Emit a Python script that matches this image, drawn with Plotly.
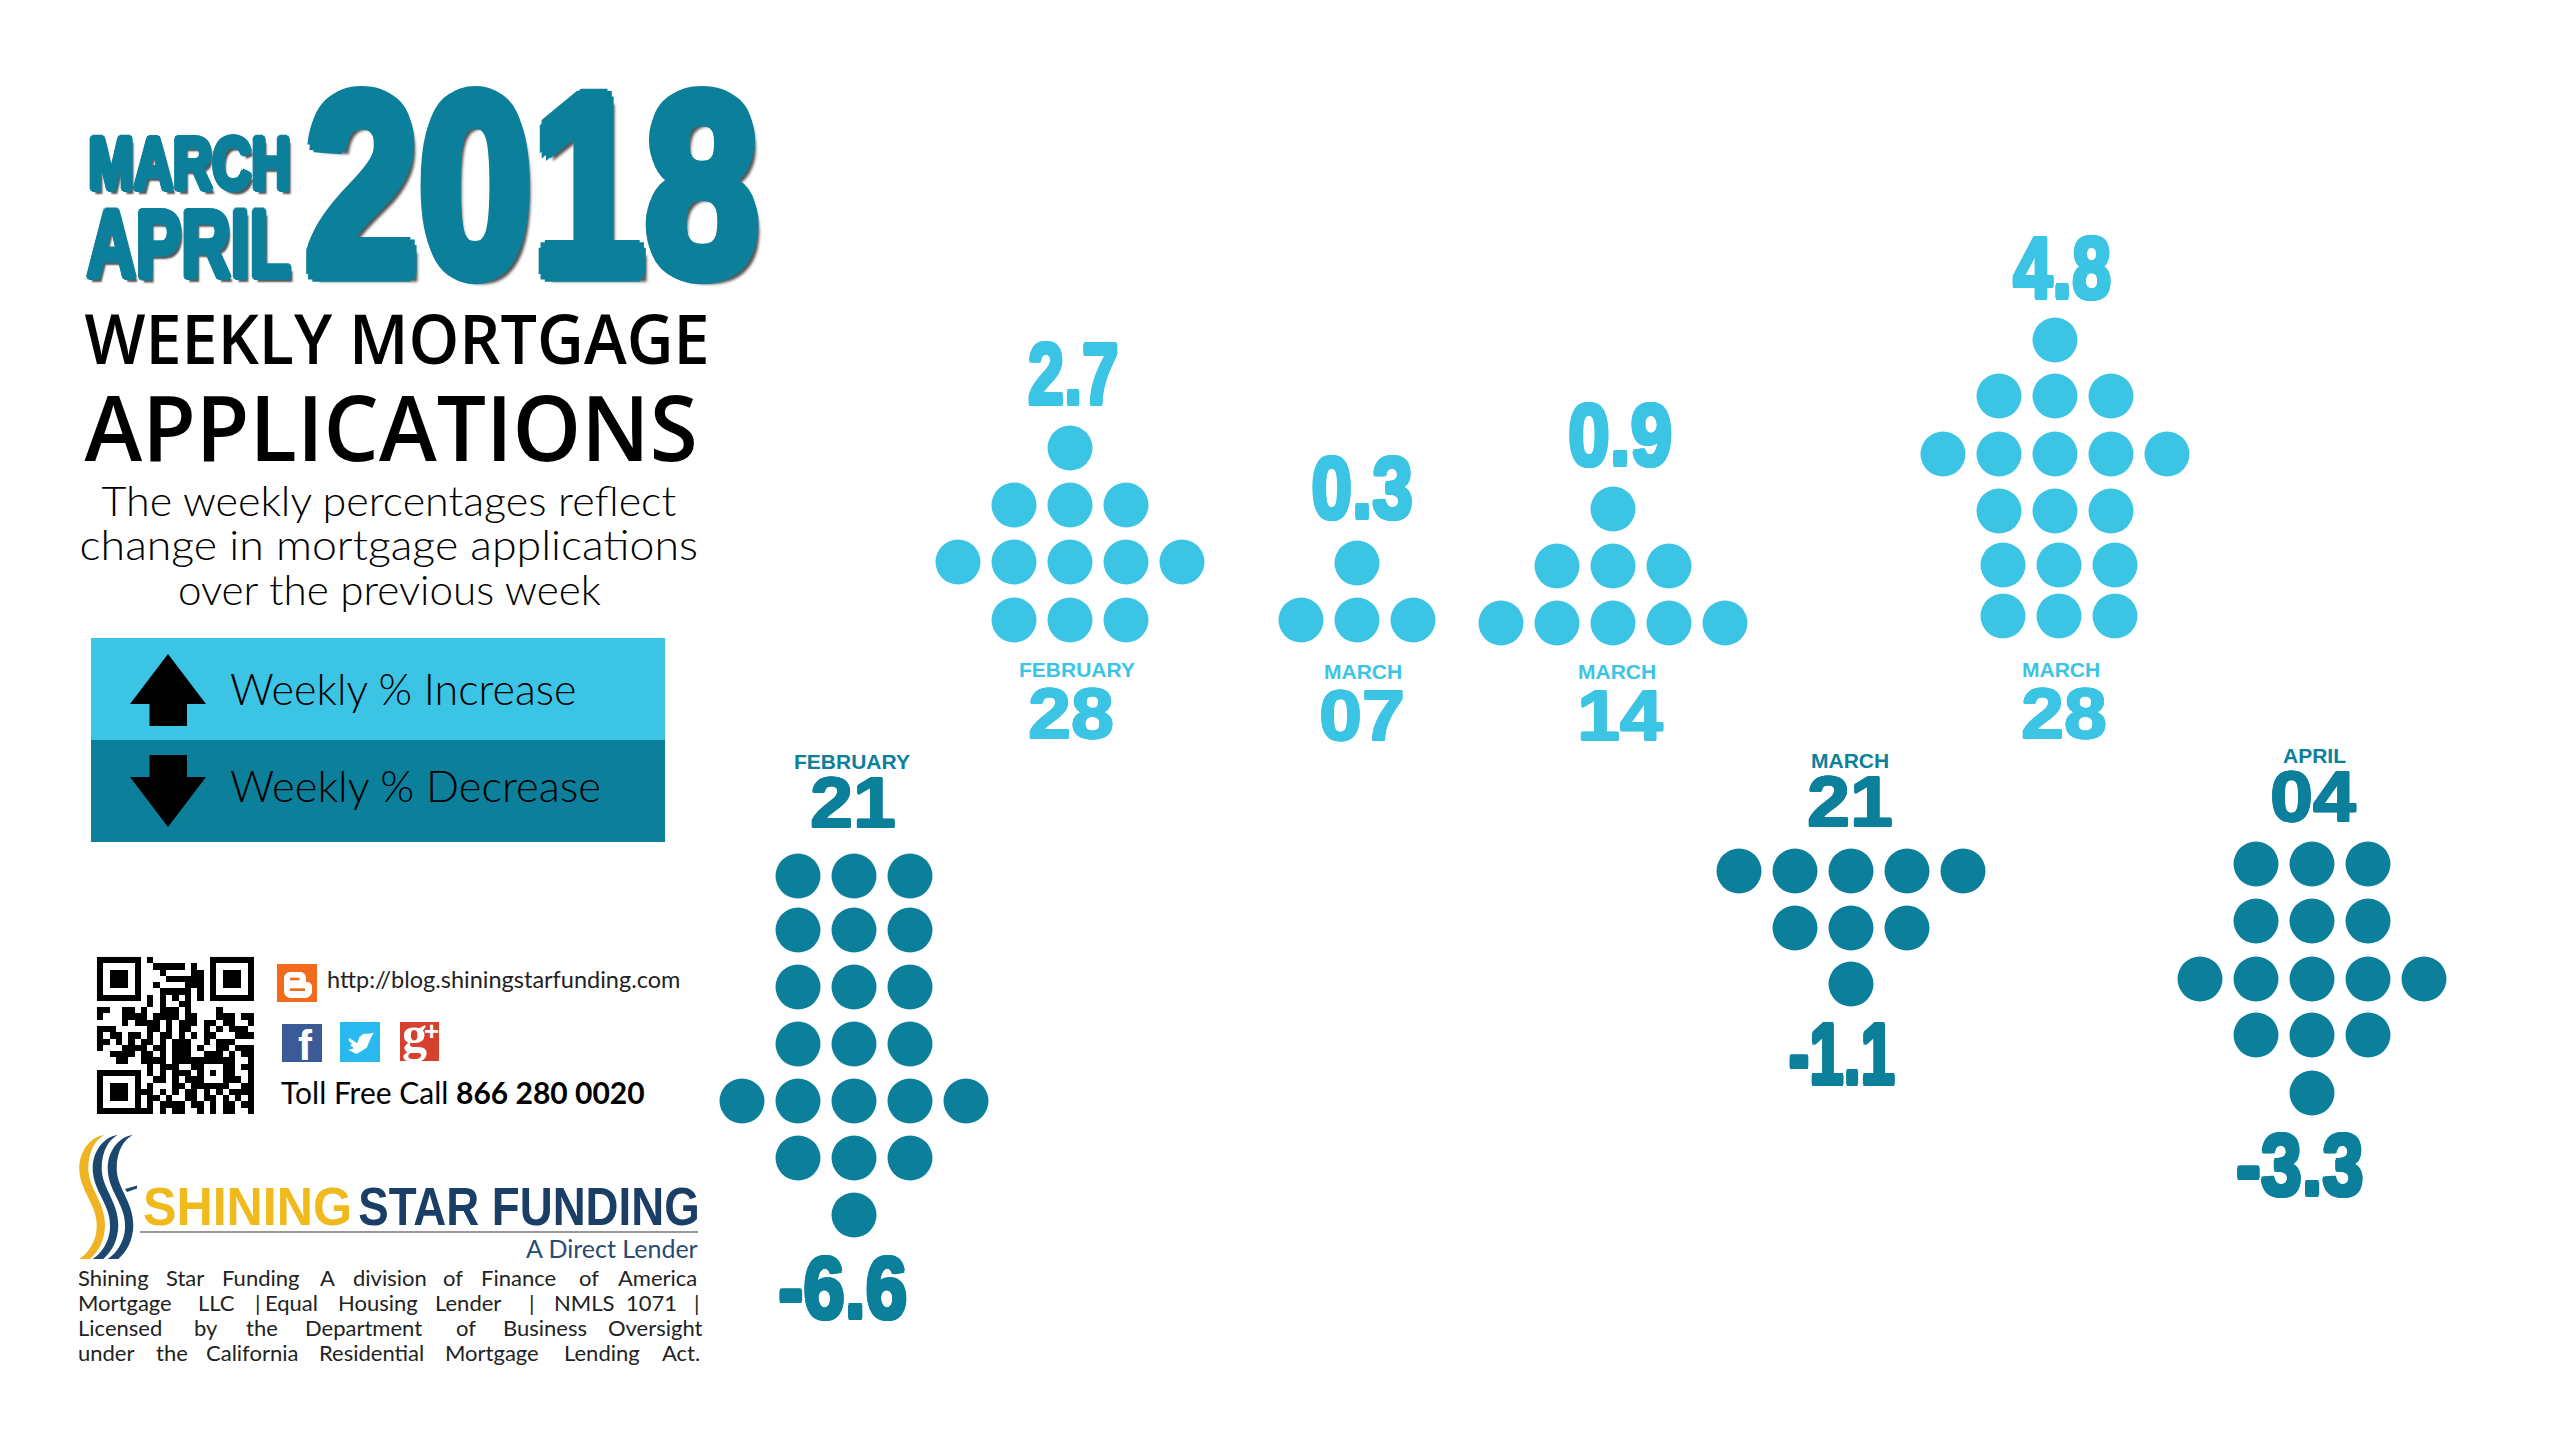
import plotly.graph_objects as go

week_months = ["FEBRUARY", "FEBRUARY", "MARCH", "MARCH", "MARCH", "MARCH", "APRIL"]
week_days = ["21", "28", "07", "14", "21", "28", "04"]
weekly_change = [-6.6, 2.7, 0.3, 0.9, -1.1, 4.8, -3.3]
dot_rows = [
    [3, 3, 3, 3, 5, 3, 1],
    [1, 3, 5, 3],
    [1, 3],
    [1, 3, 5],
    [5, 3, 1],
    [1, 3, 5, 3, 3, 3],
    [3, 3, 5, 3, 1],
]

legend_labels = ["Weekly % Increase", "Weekly % Decrease"]
blurb_lines = ["The weekly percentages reflect", "change in mortgage applications", "over the previous week"]
footer_lines = [
    ["Shining", "Star", "Funding", "A", "division", "of", "Finance", "of", "America"],
    ["Mortgage", "LLC", "|", "Equal", "Housing", "Lender", "|", "NMLS", "1071", "|"],
    ["Licensed", "by", "the", "Department", "of", "Business", "Oversight"],
    ["under", "the", "California", "Residential", "Mortgage", "Lending", "Act."],
]
qr_rows = [
    "#######" ".#........." "#######",
    "#.....#" "..#####.#.." "#.....#",
    "#.###.#" "...#....##." "#.###.#",
    "#.###.#" "....######." "#.###.#",
    "#.###.#" "..#....###." "#.###.#",
    "#.....#" "...#####.#." "#.....#",
    "#######" ".#.#.#.#.#." "#######",
    "......." ".#.#..##..." ".......",
    "##..##.#..###.#....#.....",
    "#...####.####.##...###.##",
    "....#.####.#.###.##.##..#",
    "###.....##.#.##..#.#.###.",
    "#.##.##.#.##.#.#.##...###",
    "##.#.#.##.#.###..#.###...",
    "#...####.##.###.#..##.###",
    "..####.##.#.###..###.#.##",
    "...##..####.####" "#####" "#..#",
    "........#.###..#" "#...#" "#.##",
    "#######" ".#.#.###." "#.#.#" "#..#",
    "#.....#" "..##.#.##" "#...#" "##.#",
    "#.###.#" ".#...##.#" "#####" "..##",
    "#.###.#" "##.#.#.##" ".#.#." "####",
    "#.###.#" ".##.#..##" ".##.#" ".#.#",
    "#.....#" ".#.####.#" "#.#.#" "#.##",
    "#######" "##.#.##.." "#.#.#" "#..#",
]

# layout, in page pixels
LIGHT = "#3cc4e4"
DARK = "#0c7f9b"
ARIAL = "Liberation Sans"
BODY = "Lato"
dot_x = [854, 1070, 1357, 1613, 1851, 2055, 2312]
dot_y = [
    [876, 930, 987, 1044, 1101, 1158, 1215],
    [448, 505, 562, 620],
    [563, 620],
    [509, 566, 623],
    [871, 928, 984],
    [340, 396, 454, 511, 565, 616],
    [864, 921, 979, 1035, 1093],
]
dot_shift = {5: {4: 4, 5: 4}}
value_xy = [(843, 1287), (1073, 373), (1362, 487), (1620, 434), (1842, 1053), (2062, 267), (2300, 1164)]
value_squeeze = ["0.85", "0.74", "0.83", "0.85", "0.7", "0.8", "0.84"]
month_xy = [(852, 761), (1077, 669), (1363, 671), (1617, 671), (1850, 760), (2061, 669), (2314, 755)]
day_xy = [(853, 803), (1071, 714), (1362, 716), (1620, 716), (1850, 802), (2064, 714), (2313, 797)]
blurb_squeeze = ["1.05", "1.09", "1.03"]
footer_x = [
    [76, 164, 220, 318, 351, 441, 479, 577, 616],
    [76, 196, 253, 263, 336, 433, 527, 552, 624, 692],
    [76, 192, 244, 303, 454, 501, 606],
    [76, 154, 204, 317, 443, 562, 660],
]
footer_y = [1277, 1302, 1327, 1352]

fig = go.Figure()


def label(x, y, text, family, size, color="#000000", weight="normal", shadow="none", anchor="center", squeeze=None):
    # squeeze goes in the annotation name, the post script below reads it back
    fig.add_annotation(x=x, y=y, text=text, showarrow=False, xanchor=anchor, yanchor="middle", name=squeeze,
                       font=dict(family=family, size=size, color=color, weight=weight, shadow=shadow))


def box(x0, y0, x1, y1, color):
    fig.add_shape(type="rect", x0=x0, y0=y0, x1=x1, y1=y1, fillcolor=color, line_width=0)


def fat(color, px):
    # text-shadow ring to get the heavy poster weight
    dirs = [(1, 0), (-1, 0), (0, 1), (0, -1), (0.7, 0.7), (-0.7, 0.7), (0.7, -0.7), (-0.7, -0.7)]
    return ",".join(f"{a * px:.1f}px {b * px:.1f}px 0 {color}" for a, b in dirs)


def wave(dx, color):
    pts = [(103, 30), (60, 35), (28, 80), (28, 130), (28, 200), (85, 240), (80, 310), (78, 350), (55, 385), (28, 402)]
    back = [(60, 402), (85, 380), (105, 345), (105, 300), (105, 230), (55, 190), (55, 130), (55, 80), (75, 45), (103, 30)]
    conv = lambda p: f"{70 + (p[0] + dx) / 3:.1f},{1125 + p[1] / 3:.1f}"
    d = "M" + conv(pts[0])
    for i in range(1, 10, 3):
        d += " C" + " ".join(conv(p) for p in pts[i:i + 3])
    d += " L" + conv(back[0])
    for i in range(1, 10, 3):
        d += " C" + " ".join(conv(p) for p in back[i:i + 3])
    fig.add_shape(type="path", path=d + " Z", fillcolor=color, line_width=0)


# dot arrows
for i, rows in enumerate(dot_rows):
    xs, ys = [], []
    for r, count in enumerate(rows):
        shift = dot_shift.get(i, {}).get(r, 0)
        for c in range(count):
            xs.append(dot_x[i] + shift + (c - (count - 1) / 2) * 56)
            ys.append(dot_y[i][r])
    color = LIGHT if weekly_change[i] > 0 else DARK
    fig.add_trace(go.Scatter(x=xs, y=ys, mode="markers", hoverinfo="skip",
                             marker=dict(size=45, color=color, line_width=0)))
    label(*value_xy[i], str(weekly_change[i]), ARIAL, 88, color, "bold", fat(color, 2), squeeze=value_squeeze[i])
    label(*month_xy[i], week_months[i], ARIAL, 21, color, "bold")
    label(*day_xy[i], week_days[i], ARIAL, 70, color, "bold", fat(color, 1), squeeze="1.1")

# qr code
fig.add_trace(go.Heatmap(z=[[1 if c == "#" else 0 for c in row] for row in qr_rows],
                         x0=100.1, dx=6.27, y0=960.1, dy=6.27, hoverinfo="skip", showscale=False,
                         colorscale=[[0, "#ffffff"], [1, "#000000"]]))

# title block
label(532, 184, "2018", ARIAL, 258, DARK, "bold", fat(DARK, 7) + ",8px 7px 3px #555555", squeeze="0.79")
label(189, 163, "MARCH", ARIAL, 74, DARK, "bold", fat(DARK, 3) + ",4px 4px 2px #555555", squeeze="0.735")
label(189, 243, "APRIL", ARIAL, 96, DARK, "bold", fat(DARK, 3) + ",4px 4px 2px #555555", squeeze="0.71")
label(397, 337, "WEEKLY MORTGAGE", "Open Sans", 68, "#000000", 600, squeeze="0.95")
label(391, 426, "APPLICATIONS", "Open Sans", 90, "#000000", 600, squeeze="0.97")
for y, line, sq in zip([500, 544, 589], blurb_lines, blurb_squeeze):
    label(389, y, line, BODY, 41, weight=300, squeeze=sq)

# legend block
box(91, 638, 665, 740, LIGHT)
box(91, 740, 665, 842, DARK)
fig.add_shape(type="path", path="M168,654 L206,704 L187,704 L187,726 L149.5,726 L149.5,704 L130,704 Z",
              fillcolor="#000000", line_width=0)
fig.add_shape(type="path", path="M168,827 L206,777 L187,777 L187,755 L149.5,755 L149.5,777 L130,777 Z",
              fillcolor="#000000", line_width=0)
label(228, 688, legend_labels[0], BODY, 43, weight=300, anchor="left")
label(228, 785, legend_labels[1], BODY, 43.5, weight=300, anchor="left")

# contact icons
box(277, 964, 317, 1002, "#f26b1d")
fig.add_shape(type="path", fillcolor="#ffffff", line_width=0,
              path="M290,972 L300,972 C304,972 306,975 306,979 L306,982 C310,982 312,984 312,987 L312,991 "
                   "C312,995 309,998 305,998 L291,998 C287,998 284,995 284,991 L284,978 C284,975 287,972 290,972 Z")
box(290, 977.7, 299.5, 980.3, "#f26b1d")
box(290, 988.3, 305, 991, "#f26b1d")
box(282, 1024, 322, 1062, "#3a5a98")
label(305, 1045, "f", ARIAL, 42, "#ffffff", "bold")
box(340, 1022, 380, 1062, "#29b9ee")
fig.add_shape(type="path", fillcolor="#ffffff", line_width=0,
              path="M348.7,1037.7 L357.3,1043.3 L359.3,1037.3 L363.3,1033.7 L368.7,1033.7 L374,1032.7 L371.3,1036.7 "
                   "L366.7,1047.7 L356.7,1054 L348.3,1050 L354,1048.3 L350,1045 L352.3,1044.3 L349,1041 Z")
box(400, 1022, 439, 1061, "#d5402f")
label(414, 1034, "g", "Liberation Serif", 50, "#ffffff", "bold")
label(431, 1031, "+", ARIAL, 26, "#ffffff", "bold")
label(325, 979, "http://blog.shiningstarfunding.com", BODY, 23.5, "#222222", anchor="left")
label(279, 1092, "Toll Free Call <b>866 280 0020</b>", BODY, 30, anchor="left")

# logo
wave(0, "#f0b323")
wave(40, "#1c4870")
wave(85, "#1c4870")
fig.add_shape(type="path", path="M125,1189 L137,1185.5 L137,1188.5 L127,1192 Z", fillcolor="#1c4870", line_width=0)
label(247, 1206, "SHINING", ARIAL, 54, "#f0b91c", "bold", squeeze="0.93")
label(529, 1206, "STAR FUNDING", ARIAL, 54, "#1a3e66", "bold", squeeze="0.845")
fig.add_shape(type="line", x0=140, y0=1232, x1=698, y1=1232, line=dict(color="#999999", width=2))
label(700, 1248, "A Direct Lender", BODY, 25, "#2b4a73", anchor="right")

# legal text, words placed one by one to keep it justified
for words, xs, y in zip(footer_lines, footer_x, footer_y):
    for word, x in zip(words, xs):
        label(x, y, word, BODY, 22, "#222222", anchor="left")

fig.update_layout(width=2550, height=1440, margin=dict(l=0, r=0, t=0, b=0), showlegend=False,
                  paper_bgcolor="#ffffff", plot_bgcolor="#ffffff",
                  xaxis=dict(range=[0, 2550], visible=False, fixedrange=True),
                  yaxis=dict(range=[1440, 0], visible=False, fixedrange=True))

# no condensed font is installed, so squeeze the poster text sideways after drawing
squeeze_js = """
var gd = document.getElementById('{plot_id}');
gd.layout.annotations.forEach(function(a, i) {
  if (!a.name) return;
  var t = gd.querySelector('.annotation[data-index="' + i + '"] text');
  var b = t.getBBox();
  var c = b.x + b.width / 2;
  t.setAttribute('transform', 'translate(' + c + ',0) scale(' + a.name + ',1) translate(' + (-c) + ',0)');
});
document.body.style.margin = '0';
"""
fig.write_html("out.html", config={"displayModeBar": False}, post_script=squeeze_js)
